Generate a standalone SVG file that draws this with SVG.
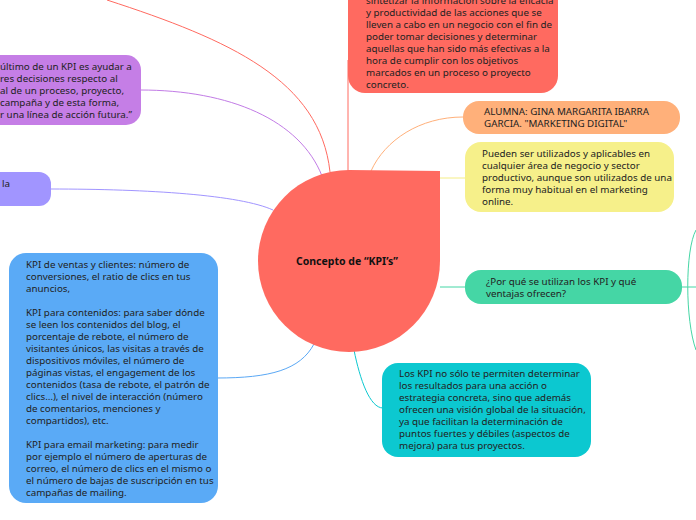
<svg xmlns="http://www.w3.org/2000/svg" width="696" height="520" viewBox="0 0 696 520">
<style>
text{font-family:"Noto Sans","Open Sans",sans-serif;font-size:9.8px;fill:#222}
.c{fill:none;stroke-width:1}
</style>
<rect width="696" height="520" fill="#fff"/>
<g id="connectors">
<path class="c" stroke="#ff6a60" d="M107 0 C230 40 320 80 330 172"/>
<path class="c" stroke="#ff6a60" d="M348 60 V172"/>
<path class="c" stroke="#c27ce6" d="M140 90 C230 90 300 120 322 176"/>
<path class="c" stroke="#a195ff" d="M50 189 C150 189 240 195 273 210"/>
<path class="c" stroke="#ffb07a" d="M463 117 C420 117 385 140 371 171"/>
<path class="c" stroke="#f4ed85" d="M440 178 H466"/>
<path class="c" stroke="#45d6a5" d="M440 287 H466 M682 287 H696"/>
<path class="c" stroke="#45d6a5" d="M696 230 C685 250 685 320 696 350"/>
<path class="c" stroke="#5aa8f5" d="M217 378 C270 378 300 370 314 344"/>
<path class="c" stroke="#0cc8d0" d="M354 350 C360 380 370 408 383 408"/>
</g>
<g id="n-top"><rect x="348" y="-30" width="210" height="123" rx="17" fill="#ff6a60"/>
<text x="366" y="4">sintetizar la información sobre la eficacia</text>
<text x="366" y="16">y productividad de las acciones que se</text>
<text x="366" y="28">lleven a cabo en un negocio con el fin de</text>
<text x="366" y="40">poder tomar decisiones y determinar</text>
<text x="366" y="52">aquellas que han sido más efectivas a la</text>
<text x="366" y="64">hora de cumplir con los objetivos</text>
<text x="366" y="76">marcados en un proceso o proyecto</text>
<text x="366" y="88">concreto.</text></g>
<g id="n-purple"><rect x="-30" y="55" width="171" height="70" rx="15" fill="#c57ee6"/>
<text x="0" y="70">último de un KPI es ayudar a</text>
<text x="0" y="82">res decisiones respecto al</text>
<text x="0" y="94">al de un proceso, proyecto,</text>
<text x="0" y="106"> campaña y de esta forma,</text>
<text x="0" y="118">r una línea de acción futura.”</text></g>
<g id="n-violet"><rect x="-30" y="172" width="81" height="34" rx="12" fill="#a195ff"/>
<text x="2" y="187">la</text></g>
<g id="n-alumna"><rect x="463" y="101" width="217" height="33" rx="16" fill="#ffb07a"/>
<text x="484" y="115">ALUMNA: GINA MARGARITA IBARRA</text>
<text x="484" y="127">GARCIA. "MARKETING DIGITAL"</text></g>
<g id="n-yellow"><rect x="465" y="142" width="209" height="70" rx="16" fill="#f6f08a"/>
<text x="482" y="157">Pueden ser utilizados y aplicables en</text>
<text x="482" y="169">cualquier área de negocio y sector</text>
<text x="482" y="181">productivo, aunque son utilizados de una</text>
<text x="482" y="193">forma muy habitual en el marketing</text>
<text x="482" y="205">online.</text></g>
<g id="n-center"><path d="M440 171 V261 A91 91 0 1 1 349 170 Z" fill="#ff6a60"/>
<text x="347" y="265" text-anchor="middle" style="font-weight:bold;font-size:10.5px;fill:#111">Concepto de “KPI’s”</text></g>
<g id="n-green"><rect x="465" y="270" width="217" height="34" rx="16" fill="#45d6a5"/>
<text x="486" y="285">¿Por qué se utilizan los KPI y qué</text>
<text x="486" y="297">ventajas ofrecen?</text></g>
<g id="n-blue"><rect x="9" y="253" width="209" height="250" rx="17" fill="#5aaaf6"/>
<text x="26" y="268">KPI de ventas y clientes: número de</text>
<text x="26" y="280">conversiones, el ratio de clics en tus</text>
<text x="26" y="292">anuncios,</text>
<text x="26" y="316">KPI para contenidos: para saber dónde</text>
<text x="26" y="328">se leen los contenidos del blog, el</text>
<text x="26" y="340">porcentaje de rebote, el número de</text>
<text x="26" y="352">visitantes únicos, las visitas a través de</text>
<text x="26" y="364">dispositivos móviles, el número de</text>
<text x="26" y="376">páginas vistas, el engagement de los</text>
<text x="26" y="388">contenidos (tasa de rebote, el patrón de</text>
<text x="26" y="400">clics…), el nivel de interacción (número</text>
<text x="26" y="412">de comentarios, menciones y</text>
<text x="26" y="424">compartidos), etc.</text>
<text x="26" y="448">KPI para email marketing: para medir</text>
<text x="26" y="460">por ejemplo el número de aperturas de</text>
<text x="26" y="472">correo, el número de clics en el mismo o</text>
<text x="26" y="484">el número de bajas de suscripción en tus</text>
<text x="26" y="496">campañas de mailing.</text></g>
<g id="n-cyan"><rect x="382" y="363" width="209" height="94" rx="16" fill="#0cc8d0"/>
<text x="399" y="377">Los KPI no sólo te permiten determinar</text>
<text x="399" y="389">los resultados para una acción o</text>
<text x="399" y="401">estrategia concreta, sino que además</text>
<text x="399" y="413">ofrecen una visión global de la situación,</text>
<text x="399" y="425">ya que facilitan la determinación de</text>
<text x="399" y="437">puntos fuertes y débiles (aspectos de</text>
<text x="399" y="449">mejora) para tus proyectos.</text></g>
</svg>
